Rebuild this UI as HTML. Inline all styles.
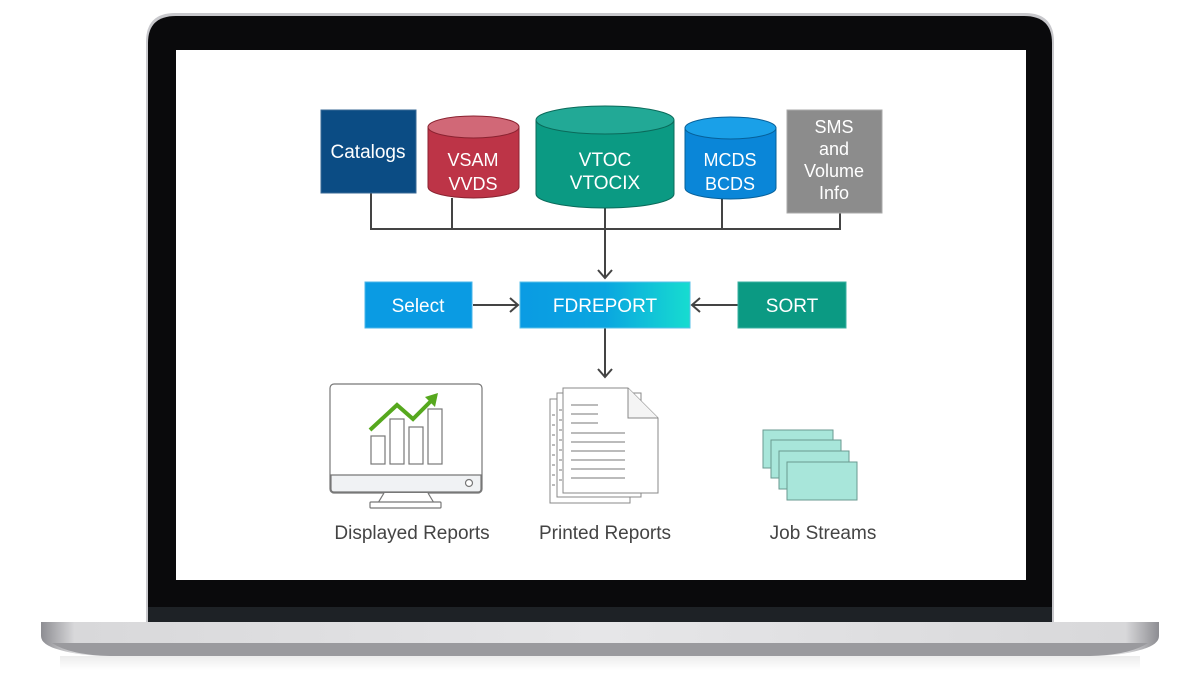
<!DOCTYPE html>
<html><head><meta charset="utf-8"><style>
html,body{margin:0;padding:0;background:#fff;}
body{width:1200px;height:690px;overflow:hidden;font-family:"Liberation Sans",sans-serif;}
</style></head><body>
<svg width="1200" height="690" viewBox="0 0 1200 690" xmlns="http://www.w3.org/2000/svg" font-family="Liberation Sans, sans-serif">
<defs>
<linearGradient id="base" x1="0" y1="0" x2="1" y2="0">
<stop offset="0" stop-color="#8d8d92"/><stop offset="0.03" stop-color="#d8d8da"/><stop offset="0.5" stop-color="#e6e6e8"/><stop offset="0.97" stop-color="#d8d8da"/><stop offset="1" stop-color="#8d8d92"/></linearGradient>
<linearGradient id="fd" x1="0" y1="0" x2="1" y2="0"><stop offset="0" stop-color="#0a9be3"/><stop offset="0.5" stop-color="#0aa6e0"/><stop offset="1" stop-color="#17dcd0"/></linearGradient>
<linearGradient id="refl" x1="0" y1="0" x2="0" y2="1"><stop offset="0" stop-color="#ececec"/><stop offset="1" stop-color="#fff"/></linearGradient>
</defs>
<!-- lid -->
<path d="M146,650 L146,42 Q146,13 175,13 L1025,13 Q1054,13 1054,42 L1054,650 Z" fill="#c8c8cc"/>
<path d="M148,650 L148,43 Q148,16 176,16 L1024,16 Q1052,16 1052,43 L1052,650 Z" fill="#0a0a0c"/>
<rect x="148" y="607" width="904" height="17" fill="#1e2226"/>
<rect x="176" y="50" width="850" height="530" fill="#fff"/>
<!-- base -->
<path d="M41,622 L1159,622 L1159,636 Q1159,645 1140,650 Q1120,656 1090,656 L110,656 Q80,656 60,650 Q41,645 41,636 Z" fill="url(#base)"/>
<path d="M52,643 L1148,643 Q1130,655 1090,656 L110,656 Q70,655 52,643 Z" fill="#9a9a9e"/>
<rect x="60" y="656" width="1080" height="14" fill="url(#refl)"/>

<!-- connectors -->
<g stroke="#444" stroke-width="2" fill="none">
<path d="M371,192 V229 H840 V213"/>
<path d="M452,198 V229"/><path d="M722,198 V229"/>
<path d="M605,208 V277"/><path d="M598,270 L605,278 L612,270"/>
<path d="M473,305 H518"/><path d="M510,298 L518,305 L510,312"/>
<path d="M738,305 H692"/><path d="M700,298 L692,305 L700,312"/>
<path d="M605,328 V376"/><path d="M598,369 L605,377 L612,369"/>
</g>

<!-- top nodes -->
<rect x="321" y="110" width="95" height="83" fill="#0b4c84" stroke="#3a6a96" stroke-width="1"/>
<text x="368" y="158" fill="#fff" font-size="19" text-anchor="middle">Catalogs</text>

<path d="M428,127 V187 A45.5,11 0 0 0 519,187 V127 Z" fill="#bd3447" stroke="#8a2230"/>
<ellipse cx="473.5" cy="127" rx="45.5" ry="11" fill="#d16877" stroke="#8a2230"/>
<text x="473" y="166" fill="#fff" font-size="18" text-anchor="middle">VSAM</text>
<text x="473" y="190" fill="#fff" font-size="18" text-anchor="middle">VVDS</text>

<path d="M536,120 V194 A69,14 0 0 0 674,194 V120 Z" fill="#0b9a83" stroke="#0a6a5a"/>
<ellipse cx="605" cy="120" rx="69" ry="14" fill="#22a996" stroke="#0a6a5a"/>
<text x="605" y="166" fill="#fff" font-size="19" text-anchor="middle">VTOC</text>
<text x="605" y="189" fill="#fff" font-size="19" text-anchor="middle">VTOCIX</text>

<path d="M685,128 V188 A45.5,11 0 0 0 776,188 V128 Z" fill="#0a86d8" stroke="#06609a"/>
<ellipse cx="730.5" cy="128" rx="45.5" ry="11" fill="#1aa0e8" stroke="#06609a"/>
<text x="730" y="166" fill="#fff" font-size="18" text-anchor="middle">MCDS</text>
<text x="730" y="190" fill="#fff" font-size="18" text-anchor="middle">BCDS</text>

<rect x="787" y="110" width="95" height="103" fill="#8c8c8c" stroke="#aaa"/>
<text fill="#fff" font-size="18" text-anchor="middle"><tspan x="834" y="133">SMS</tspan><tspan x="834" y="155">and</tspan><tspan x="834" y="177">Volume</tspan><tspan x="834" y="199">Info</tspan></text>

<!-- middle row -->
<rect x="365" y="282" width="107" height="46" fill="#0a9be3" stroke="#4ab6ea"/>
<text x="418" y="312" fill="#fff" font-size="19" text-anchor="middle">Select</text>
<rect x="520" y="282" width="170" height="46" fill="url(#fd)" stroke="#5ac0e8"/>
<text x="605" y="312" fill="#fff" font-size="19" text-anchor="middle">FDREPORT</text>
<rect x="738" y="282" width="108" height="46" fill="#0b9a83" stroke="#3ab0a0"/>
<text x="792" y="312" fill="#fff" font-size="19" text-anchor="middle">SORT</text>

<!-- monitor -->
<g stroke="#777" stroke-width="1.2" fill="#fff">
<rect x="330" y="384" width="152" height="109" rx="4"/>
<path d="M331,475 H481 V489 Q481,492 478,492 H334 Q331,492 331,489 Z" fill="#f0f2f4"/>
<circle cx="469" cy="483" r="3.5"/>
<path d="M384,493 L378,503 H434 L428,493"/>
<rect x="370" y="502" width="71" height="6" rx="1"/>
<rect x="371" y="436" width="14" height="28"/>
<rect x="390" y="419" width="14" height="45"/>
<rect x="409" y="427" width="14" height="37"/>
<rect x="428" y="409" width="14" height="55"/>
</g>
<path d="M370,430 L397,405 L413,419 L432,400" stroke="#56a81e" stroke-width="4" fill="none"/>
<path d="M425,397 L438,393 L435,407 Z" fill="#56a81e"/>

<!-- documents -->
<g stroke="#888" stroke-width="1" fill="#fff">
<rect x="550" y="399" width="80" height="104"/>
<rect x="557" y="393" width="84" height="104"/>
<path d="M563,388 H628 L658,418 V493 H563 Z"/>
<path d="M628,388 V418 H658" fill="#f4f4f4"/>
</g>
<g stroke="#777" stroke-width="1">
<path d="M571,405 H598 M571,414 H598 M571,423 H598 M571,433 H625 M571,442 H625 M571,451 H625 M571,460 H625 M571,469 H625 M571,478 H625"/>
<path d="M552,415 h3 M552,425 h3 M552,435 h3 M552,445 h3 M552,455 h3 M552,465 h3 M552,475 h3 M552,485 h3"/>
<path d="M559,410 h3 M559,420 h3 M559,430 h3 M559,440 h3 M559,450 h3 M559,460 h3 M559,470 h3 M559,480 h3"/>
</g>

<!-- job streams -->
<g fill="#a8e6da" stroke="#6a9a90" stroke-width="1">
<rect x="763" y="430" width="70" height="38"/>
<rect x="771" y="440" width="70" height="38"/>
<rect x="779" y="451" width="70" height="38"/>
<rect x="787" y="462" width="70" height="38"/>
</g>

<!-- labels -->
<g fill="#444" font-size="19" text-anchor="middle">
<text x="412" y="539">Displayed Reports</text>
<text x="605" y="539">Printed Reports</text>
<text x="823" y="539">Job Streams</text>
</g>
</svg>
</body></html>
